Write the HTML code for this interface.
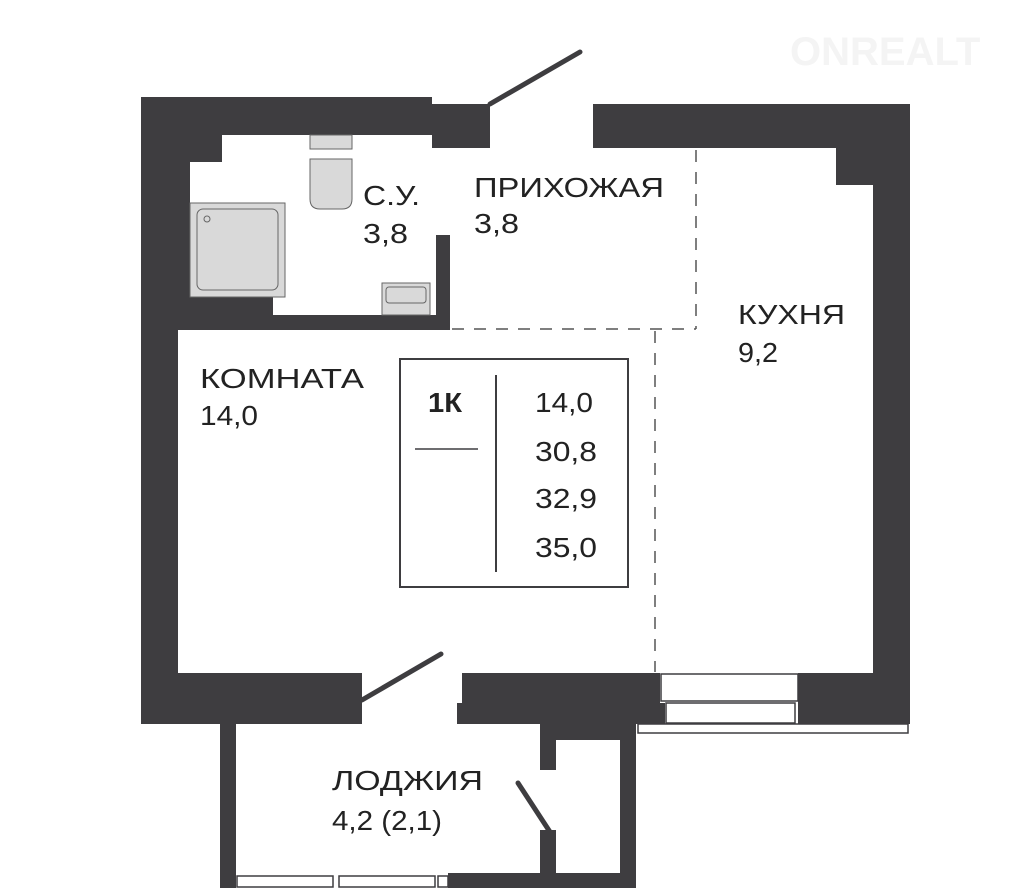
<!DOCTYPE html>
<html><head><meta charset="utf-8"><style>
html,body{margin:0;padding:0;background:#fff;}
svg{display:block;}
text{font-family:"Liberation Sans",sans-serif;fill:#222;}
</style></head><body>
<svg width="1033" height="896" viewBox="0 0 1033 896" xmlns="http://www.w3.org/2000/svg">
<g fill="#3e3d40">
<rect x="141" y="97" width="291" height="38"/>
<rect x="141" y="97" width="37" height="627"/>
<rect x="141" y="135" width="81" height="27"/>
<rect x="141" y="135" width="49" height="195"/>
<rect x="141" y="297" width="132" height="33"/>
<rect x="141" y="315" width="309" height="15"/>
<rect x="436" y="235" width="14" height="95"/>
<rect x="432" y="104" width="58" height="44"/>
<rect x="593" y="104" width="317" height="44"/>
<rect x="873" y="104" width="37" height="620"/>
<rect x="836" y="148" width="37" height="37"/>
<rect x="141" y="673" width="221" height="51"/>
<rect x="462" y="673" width="198" height="30"/>
<rect x="457" y="703" width="208" height="21"/>
<rect x="798" y="673" width="112" height="51"/>
<rect x="220" y="724" width="16" height="164"/>
<rect x="620" y="724" width="16" height="164"/>
<rect x="540" y="724" width="96" height="16"/>
<rect x="540" y="724" width="16" height="46"/>
<rect x="540" y="830" width="16" height="58"/>
<rect x="448" y="873" width="172" height="15"/>
</g>
<g fill="#fff" stroke="#3e3d40" stroke-width="1.5">
<rect x="661" y="674" width="137" height="27"/>
<rect x="666" y="703" width="129" height="20"/>
<rect x="638" y="724" width="270" height="9"/>
<rect x="237" y="876" width="96" height="11"/>
<rect x="339" y="876" width="96" height="11"/>
<rect x="438" y="876" width="10" height="11"/>
</g>
<g stroke="#3e3d40" stroke-width="5" stroke-linecap="round">
<line x1="490" y1="104" x2="580" y2="52"/>
<line x1="362" y1="700" x2="441" y2="654"/>
<line x1="518" y1="783" x2="550" y2="832"/>
</g>
<g fill="#d9d9d9" stroke="#666" stroke-width="1">
<rect x="190" y="203" width="95" height="94"/>
<rect x="197" y="209" width="81" height="81" rx="6"/>
<circle cx="207" cy="219" r="3"/>
<rect x="310" y="135" width="42" height="14"/>
<path d="M310 159 H352 V199 Q352 209 342 209 H320 Q310 209 310 199 Z"/>
<rect x="382" y="283" width="48" height="32"/>
<rect x="386" y="287" width="40" height="16" rx="3"/>
</g>
<g stroke="#555" stroke-width="1.5" stroke-dasharray="12,10" fill="none">
<line x1="696" y1="150" x2="696" y2="329"/>
<line x1="452" y1="329" x2="696" y2="329"/>
<line x1="655" y1="331" x2="655" y2="672"/>
</g>
<rect x="400" y="359" width="228" height="228" fill="none" stroke="#3e3d40" stroke-width="2"/>
<line x1="496" y1="375" x2="496" y2="572" stroke="#3e3d40" stroke-width="2"/>
<line x1="415" y1="449" x2="478" y2="449" stroke="#3e3d40" stroke-width="1.5"/>
<g font-size="28" lengthAdjust="spacingAndGlyphs">
<text x="363" y="205" textLength="57" lengthAdjust="spacingAndGlyphs">С.У.</text>
<text x="363" y="243" textLength="45" lengthAdjust="spacingAndGlyphs">3,8</text>
<text x="474" y="197" textLength="190" lengthAdjust="spacingAndGlyphs">ПРИХОЖАЯ</text>
<text x="474" y="233" textLength="45" lengthAdjust="spacingAndGlyphs">3,8</text>
<text x="738" y="324" textLength="107" lengthAdjust="spacingAndGlyphs">КУХНЯ</text>
<text x="738" y="362" textLength="40" lengthAdjust="spacingAndGlyphs">9,2</text>
<text x="200" y="388" textLength="164" lengthAdjust="spacingAndGlyphs">КОМНАТА</text>
<text x="200" y="425" textLength="58" lengthAdjust="spacingAndGlyphs">14,0</text>
<text x="428" y="412" font-weight="bold" textLength="34" lengthAdjust="spacingAndGlyphs">1К</text>
<text x="535" y="412" textLength="58" lengthAdjust="spacingAndGlyphs">14,0</text>
<text x="535" y="461" textLength="62" lengthAdjust="spacingAndGlyphs">30,8</text>
<text x="535" y="508" textLength="62" lengthAdjust="spacingAndGlyphs">32,9</text>
<text x="535" y="557" textLength="62" lengthAdjust="spacingAndGlyphs">35,0</text>
<text x="332" y="790" textLength="151" lengthAdjust="spacingAndGlyphs">ЛОДЖИЯ</text>
<text x="332" y="830" textLength="110" lengthAdjust="spacingAndGlyphs">4,2 (2,1)</text>
</g>
<text x="790" y="65" font-size="40" font-weight="bold" style="fill:#f4f4f4">ONREALT</text>
</svg>
</body></html>
